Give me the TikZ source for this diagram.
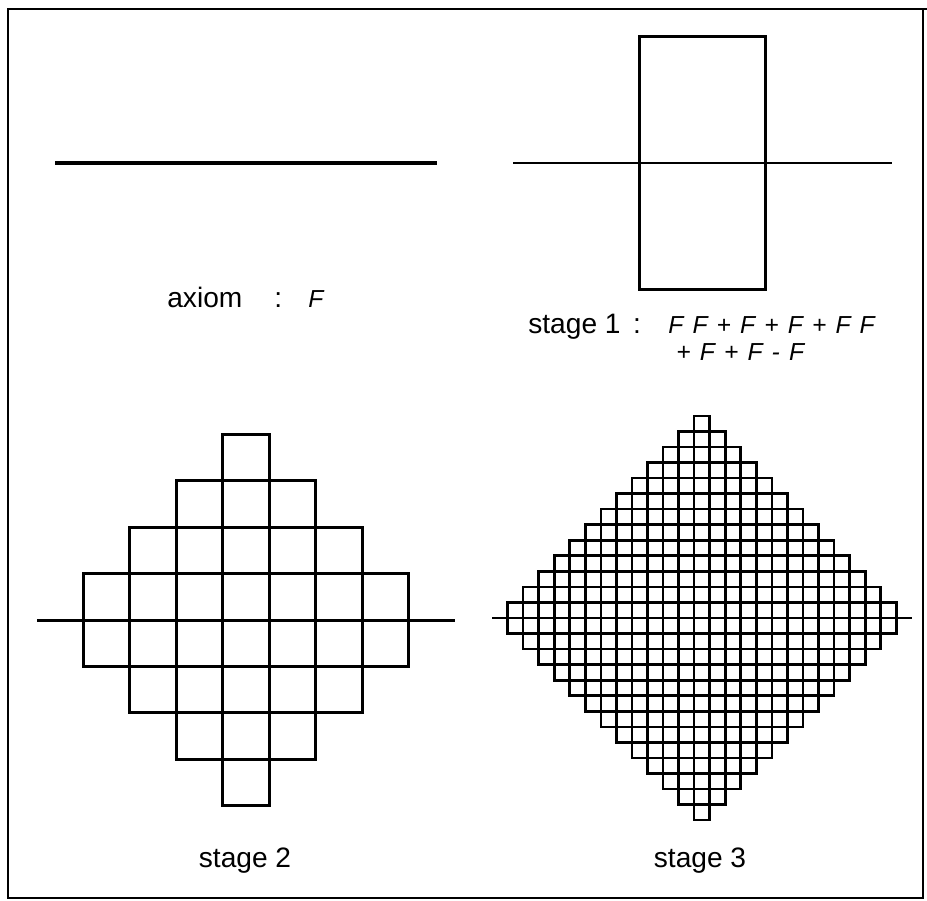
\documentclass[tikz,border=0pt]{standalone}
\usepackage{fontspec}
\setmainfont{Liberation Sans}
\usetikzlibrary{positioning,lindenmayersystems}

\pgfdeclarelindenmayersystem{quad island}{
  \rule{F -> FF+F+F+FF+F+F-F}
}
\newcommand{\rulestr}[1]{{\spaceskip=5.2pt\relax #1}}

\begin{document}
\begin{tikzpicture}[
    stagetext/.style={font=\fontsize{16}{19}\selectfont, inner sep=0pt, anchor=base west},
    ruletext/.style={font=\fontsize{14}{18}\selectfont\itshape, inner sep=0pt, anchor=base west},
    lsys/.style 2 args={lindenmayer system={quad island, axiom=F, order=#1, step=#2, angle=90}}
]
    \useasboundingbox (0,0) rectangle (18.54,18);
    % frame
    \draw[line width=1pt] (0.16,0.04) rectangle (18.46,17.82);
    \draw[line width=1.6pt] (0.16,17.82) -- (18.54,17.82);

    % axiom
    \coordinate (ax0) at (1.10,14.74);
    \coordinate (ax1) at (8.74,14.74);
    \draw[line width=2.4pt] (ax0) -- (ax1);
    \node[stagetext] (axlbl) at (3.34,11.86) {axiom};
    \node[stagetext] (axcol) at (5.48,11.86) {:};
    \node[ruletext] (axF) at (6.16,11.86) {F};

    % stage 1
    \begin{scope}[shift={(10.26,14.74)}]
        \draw[line width=1.4pt, lsys={1}{2.527cm}] lindenmayer system;
    \end{scope}
    \node[stagetext] (s1lbl) at (10.56,11.34) {stage 1 \,:};
    \node[ruletext] (s1r1) at (13.36,11.34) {\rulestr{F F + F + F + F F}};
    \node[ruletext] (s1r2) at (13.52,10.80) {\rulestr{+ F + F - F}};

    % stage 2
    \begin{scope}[shift={(0.74,5.60)}]
        \draw[line width=1.7pt, lsys={2}{0.929cm}] lindenmayer system;
    \end{scope}
    \node[stagetext, anchor=base] (s2lbl) at (4.90,0.66) {stage 2};

    % stage 3
    \begin{scope}[shift={(9.84,5.64)}]
        \draw[line width=1.5pt, lsys={3}{0.311cm}] lindenmayer system;
    \end{scope}
    \node[stagetext, anchor=base] (s3lbl) at (14.00,0.66) {stage 3};
\end{tikzpicture}
\end{document}
